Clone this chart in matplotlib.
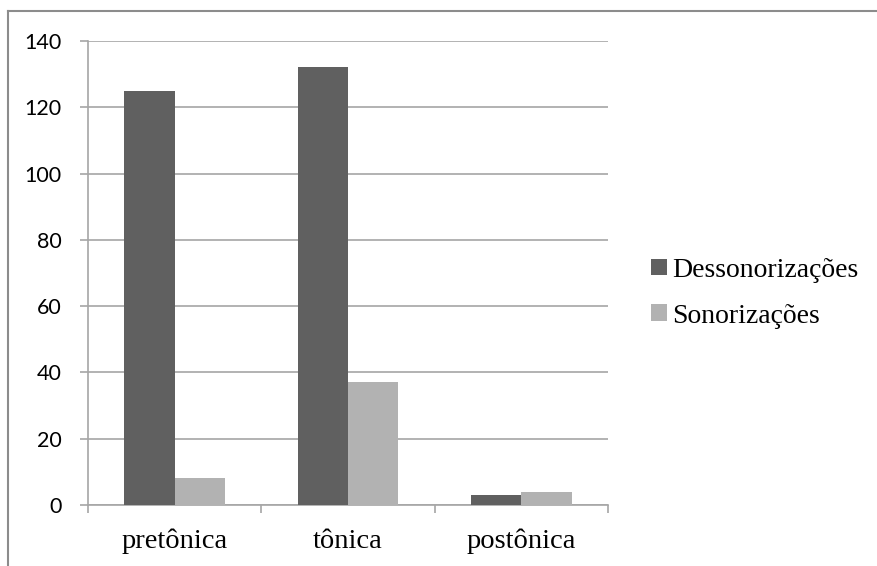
import matplotlib.pyplot as plt
from matplotlib.lines import Line2D
import numpy as np

# dados por posição da sílaba
categorias = ['pretônica', 'tônica', 'postônica']
dessonorizacoes = [125, 132, 3]
sonorizacoes = [8, 37, 4]
yticks = [0, 20, 40, 60, 80, 100, 120, 140]

cor_escura = '#606060'
cor_clara = '#b2b2b2'
cor_grade = '#a6a6a6'

fig = plt.figure(figsize=(8.77, 5.66), dpi=100)
ax = fig.add_axes([0.1003, 0.1078, 0.5930, 0.8198])

x = np.arange(len(categorias))
w = 0.29
ax.bar(x - w / 2, dessonorizacoes, w, color=cor_escura, label='Dessonorizações', zorder=3)
ax.bar(x + w / 2, sonorizacoes, w, color=cor_clara, label='Sonorizações', zorder=3)

ax.set_xlim(-0.5, 2.5)
ax.set_ylim(0, 140)
ax.set_yticks(yticks)
ax.yaxis.grid(True, color=cor_grade, linewidth=1.2, zorder=0)

# rótulos das categorias no centro, marcas nas divisões
ax.set_xticks(x)
ax.set_xticklabels(categorias, fontfamily='Liberation Serif', fontsize=20.5)
ax.set_xticks(np.arange(-0.5, 3, 1), minor=True)
ax.tick_params(axis='x', which='major', length=0, pad=17)
ax.tick_params(axis='x', which='minor', length=5.5, width=1.2, color=cor_grade)
ax.tick_params(axis='y', length=5.8, width=1.2, color=cor_grade, pad=13)
for lb in ax.get_yticklabels():
    lb.set_fontfamily('Lato')
    lb.set_fontsize(15.5)

for s in ['top', 'right']:
    ax.spines[s].set_visible(False)
for s in ['left', 'bottom']:
    ax.spines[s].set_color(cor_grade)
    ax.spines[s].set_linewidth(1.2)

leg = fig.legend(loc='center left', bbox_to_anchor=(0.730, 0.482), frameon=False,
                 prop={'family': 'Liberation Serif', 'size': 20},
                 handlelength=0.55, handleheight=0.55, handletextpad=0.2,
                 labelspacing=0.75, borderaxespad=0)

# moldura do gráfico
fig.add_artist(Line2D([8 / 877, 8 / 877], [0, 1 - 11 / 566], color='#8c8c8c', linewidth=1.5))
fig.add_artist(Line2D([8 / 877, 1], [1 - 11 / 566, 1 - 11 / 566], color='#8c8c8c', linewidth=1.5))

fig.savefig('out.png', dpi=100)
